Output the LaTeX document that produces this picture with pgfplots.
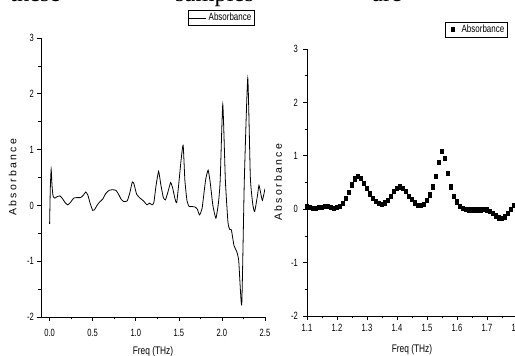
\documentclass[border=0pt]{standalone}
\usepackage{fontspec}
\setmainfont{Liberation Sans}
\newfontfamily\tickfont[FakeStretch=0.72]{Liberation Sans}
\newfontfamily\labfont[FakeStretch=0.76]{Liberation Sans}
\newfontfamily\ylabfont[LetterSpace=22]{Liberation Sans}
\newfontfamily\topfont{Liberation Serif}
\usepackage{pgfplots}
\pgfplotsset{compat=1.18}
\usepackage{pgfplotstable}

\pgfplotstableread{
x y
0.000 -0.33
0.008 0.30
0.018 0.65
0.028 0.35
0.040 0.17
0.060 0.13
0.090 0.16
0.120 0.17
0.150 0.12
0.180 0.05
0.210 0.01
0.240 0.05
0.280 0.13
0.320 0.14
0.360 0.14
0.390 0.18
0.420 0.24
0.445 0.18
0.470 0.04
0.500 -0.09
0.520 -0.08
0.550 0.00
0.580 0.06
0.620 0.12
0.650 0.21
0.690 0.27
0.730 0.28
0.770 0.27
0.800 0.20
0.830 0.11
0.860 0.07
0.900 0.08
0.930 0.22
0.960 0.42
0.980 0.38
1.010 0.20
1.050 0.13
1.090 0.08
1.130 0.01
1.160 0.04
1.190 0.01
1.210 0.05
1.235 0.35
1.265 0.61
1.290 0.38
1.320 0.14
1.345 0.10
1.375 0.25
1.405 0.41
1.430 0.30
1.455 0.12
1.475 0.05
1.500 0.40
1.525 0.80
1.550 1.08
1.570 0.45
1.595 0.08
1.620 -0.02
1.650 -0.02
1.690 -0.03
1.715 -0.07
1.740 -0.17
1.770 -0.05
1.810 0.45
1.840 0.63
1.865 0.40
1.895 0.00
1.930 -0.23
1.960 0.05
1.980 0.45
2.010 1.81
2.040 0.45
2.070 -0.30
2.090 -0.43
2.110 -0.44
2.140 -0.72
2.170 -0.82
2.195 -0.99
2.230 -1.78
2.260 0.45
2.300 2.28
2.330 0.50
2.360 0.00
2.380 -0.11
2.410 0.15
2.430 0.36
2.450 0.22
2.470 0.09
2.500 0.30
}\leftdata

\pgfplotstableread{
x y
1.10 0.05
1.11 0.03
1.12 0.02
1.13 0.02
1.14 0.03
1.15 0.04
1.16 0.05
1.17 0.05
1.18 0.04
1.19 0.02
1.20 0.03
1.21 0.06
1.22 0.11
1.23 0.20
1.24 0.32
1.25 0.46
1.26 0.57
1.27 0.62
1.28 0.58
1.29 0.49
1.30 0.39
1.31 0.29
1.32 0.21
1.33 0.15
1.34 0.11
1.35 0.10
1.36 0.12
1.37 0.17
1.38 0.24
1.39 0.33
1.40 0.40
1.41 0.42
1.42 0.39
1.43 0.33
1.44 0.25
1.45 0.18
1.46 0.12
1.47 0.08
1.48 0.07
1.49 0.10
1.50 0.17
1.51 0.27
1.52 0.42
1.53 0.62
1.54 0.88
1.55 1.09
1.56 0.96
1.57 0.67
1.58 0.42
1.59 0.25
1.60 0.14
1.61 0.06
1.62 0.02
1.63 0.00
1.64 -0.01
1.65 -0.01
1.66 -0.01
1.67 -0.01
1.68 -0.01
1.69 0.00
1.70 -0.01
1.71 -0.04
1.72 -0.08
1.73 -0.12
1.74 -0.16
1.75 -0.17
1.76 -0.14
1.77 -0.08
1.78 0.00
1.79 0.08
1.80 0.12
}\rightdata

\pgfplotsset{
  myaxis/.style={
    scale only axis,
    anchor=south west,
    ymin=-2, ymax=3,
    ytick={-2,-1,0,1,2,3},
    minor x tick num=1, minor y tick num=1,
    axis x line*=bottom, axis y line*=left,
    axis line style={-, line width=0.6pt},
    tick align=outside,
    major tick length=4pt, minor tick length=2.5pt,
    tick style={black, line width=0.6pt},
    /pgf/number format/assume math mode=true,
    ticklabel style={font=\fontsize{10.5}{11}\selectfont\tickfont, inner sep=1pt},
    xlabel={Freq (THz)},
    ylabel={Absorbance},
    xlabel style={font=\fontsize{11}{12}\selectfont\labfont, anchor=center},
    ylabel style={font=\fontsize{10.5}{12}\selectfont\ylabfont, anchor=center},
    legend style={draw=black, line width=0.6pt, font=\fontsize{10.5}{11}\selectfont\labfont,
      inner sep=1pt, anchor=center, legend cell align=left,
      /tikz/every even column/.append style={column sep=1pt}},
  }
}

\begin{document}
\begin{tikzpicture}
% fragment of body text cut at the top edge
\node[anchor=base west, inner sep=0pt, font=\fontsize{24.5}{26}\selectfont\topfont] at (10pt,354pt) {these};
\node[anchor=base west, inner sep=0pt, font=\fontsize{24.5}{26}\selectfont\topfont] at (175pt,354pt) {samples};
\node[anchor=base west, inner sep=0pt, font=\fontsize{24.5}{26}\selectfont\topfont] at (372pt,354pt) {are};

\begin{axis}[myaxis,
  at={(41pt,39pt)}, width=224pt, height=279pt,
  xmin=-0.1, xmax=2.5,
  xtick={0,0.5,1,1.5,2,2.5},
  xticklabel style={/pgf/number format/fixed, /pgf/number format/fixed zerofill, /pgf/number format/precision=1},
  xticklabel style={anchor=center, yshift=-12pt},
  yticklabel style={anchor=east, xshift=-2pt},
  xlabel style={at={(axis description cs:0.5,-0.124)}},
  ylabel style={at={(axis description cs:-0.127,0.5)}},
  legend style={at={(axis description cs:0.804,1.072)}},
  legend image code/.code={\draw[#1] (0pt,0pt) -- (17pt,0pt);},
]
\addplot[black, line width=0.8pt, smooth, tension=0.3] table[x=x,y=y] {\leftdata};
\addlegendentry{Absorbance}
\end{axis}

\begin{axis}[myaxis,
  at={(307pt,40pt)}, width=210pt, height=267pt,
  xmin=1.1, xmax=1.8,
  xtick={1.1,1.2,1.3,1.4,1.5,1.6,1.7,1.8},
  xticklabel style={/pgf/number format/fixed, /pgf/number format/precision=1},
  xticklabel style={anchor=center, yshift=-8pt},
  yticklabel style={anchor=east, xshift=-4pt},
  xlabel style={at={(axis description cs:0.5,-0.127)}},
  ylabel style={at={(axis description cs:-0.138,0.5)}},
  legend style={at={(axis description cs:0.807,1.073)}},
  legend image code/.code={\path[draw=none,fill=none] (0pt,0pt) -- (13pt,0pt); \path[#1, draw=none] plot[only marks] coordinates {(6pt,0pt)};},
]
\addplot[only marks, mark=square*, mark size=2.1pt, mark options={xscale=0.65, fill=black, draw=black}] table[x=x,y=y] {\rightdata};
\addlegendentry{Absorbance}
\end{axis}

\pgfresetboundingbox
\useasboundingbox (0,0) rectangle (515pt,356pt);
\end{tikzpicture}
\end{document}
